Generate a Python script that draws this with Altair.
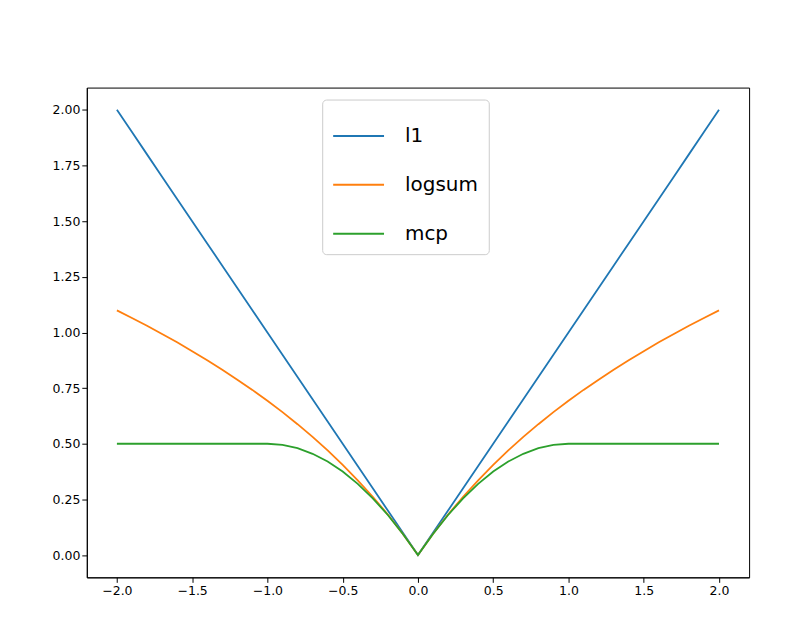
import pandas as pd
import altair as alt

# values, for x = 0.0, 0.1, ..., 2.0 (the curves are symmetric)
half_x = [0.0, 0.1, 0.2, 0.3, 0.4, 0.5, 0.6, 0.7, 0.8, 0.9, 1.0,
          1.1, 1.2, 1.3, 1.4, 1.5, 1.6, 1.7, 1.8, 1.9, 2.0]
l1_half = [0.0, 0.1, 0.2, 0.3, 0.4, 0.5, 0.6, 0.7, 0.8, 0.9, 1.0,
           1.1, 1.2, 1.3, 1.4, 1.5, 1.6, 1.7, 1.8, 1.9, 2.0]
logsum_half = [0.0, 0.095, 0.182, 0.262, 0.336, 0.405, 0.470, 0.531, 0.588, 0.642, 0.693,
               0.742, 0.788, 0.833, 0.875, 0.916, 0.956, 0.993, 1.030, 1.065, 1.099]
mcp_half = [0.0, 0.095, 0.18, 0.255, 0.32, 0.375, 0.42, 0.455, 0.48, 0.495, 0.5,
            0.5, 0.5, 0.5, 0.5, 0.5, 0.5, 0.5, 0.5, 0.5, 0.5]

series = {'l1': l1_half, 'logsum': logsum_half, 'mcp': mcp_half}

rows = []
for name, vals in series.items():
    xs = [-v for v in half_x[:0:-1]] + half_x
    ys = vals[:0:-1] + vals
    for i, (x, y) in enumerate(zip(xs, ys)):
        rows.append({'x': x, 'y': y, 'name': name, 'order': i})
df = pd.DataFrame(rows)

chart = alt.Chart(df).mark_line(strokeWidth=1.8).encode(
    x=alt.X('x:Q', title=None, scale=alt.Scale(domain=[-2.2, 2.2], nice=False, zero=False),
            axis=alt.Axis(values=[-2.0, -1.5, -1.0, -0.5, 0.0, 0.5, 1.0, 1.5, 2.0], format='.1f')),
    y=alt.Y('y:Q', title=None, scale=alt.Scale(domain=[-0.1, 2.1], nice=False, zero=False),
            axis=alt.Axis(values=[0, 0.25, 0.5, 0.75, 1.0, 1.25, 1.5, 1.75, 2.0], format='.2f')),
    color=alt.Color('name:N', title=None,
                    scale=alt.Scale(domain=['l1', 'logsum', 'mcp'],
                                    range=['#1f77b4', '#ff7f0e', '#2ca02c']),
                    legend=alt.Legend(orient='none', legendX=236, legendY=12,
                                      symbolType='stroke', symbolSize=2600, symbolStrokeWidth=2,
                                      labelFontSize=20, labelOffset=20, rowPadding=12, padding=10,
                                      strokeColor='#cccccc', fillColor='white', cornerRadius=4)),
    order='order:Q'
).properties(
    width=664,
    height=491,
    autosize=alt.AutoSizeParams(type='none'),
    padding={'left': 79, 'top': 79, 'right': 40, 'bottom': 50}
).configure_axis(
    grid=False,
    domainColor='black',
    tickColor='black',
    labelColor='black',
    labelFontSize=12.5,
    labelFont='DejaVu Sans',
    tickSize=5
).configure_legend(
    labelFont='DejaVu Sans'
).configure_view(
    stroke='black'
)

chart.save("out.html", embed_options={"renderer": "svg", "actions": False})
